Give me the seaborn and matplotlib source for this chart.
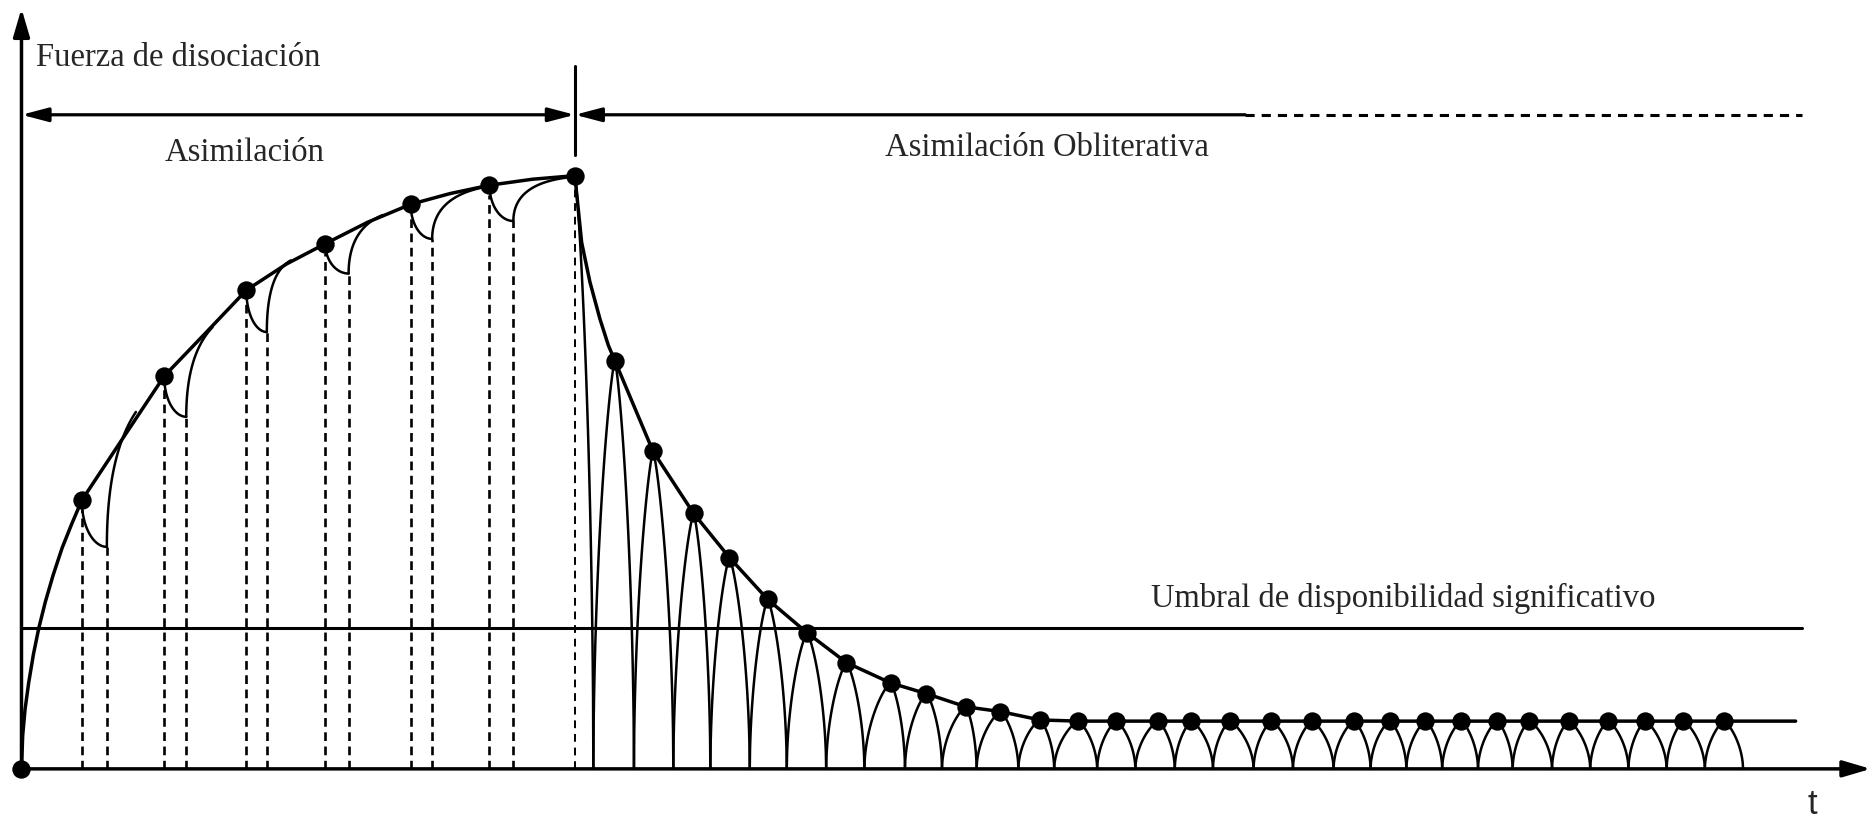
import numpy as np
import pandas as pd
import seaborn as sns
import matplotlib.pyplot as plt

# --- values (t = time, F = dissociation force) ---

# assimilation phase: dots on the rising envelope (origin ... peak)
rise_t = [0, 50.5, 119.5, 188.3, 254.5, 326, 392, 463.5]
rise_F = [0, 225, 329, 401, 440, 473, 489, 497]

# bottom of each scallop and the point where it joins the envelope again
cusp_t = [71.5, 138, 205.5, 274, 344, 412]
cusp_F = [186, 295, 366, 415, 444, 459]
merge_t = [95.8, 160, 225.6, 302.5, 385.8, 462.8]
merge_F = [299, 370, 426, 464, 487, 496]

# rising envelope
env_rise_t = [0, 1, 3, 6, 10, 14.5, 20, 26.4, 34, 42, 50.5, 84.6, 119.5,
              155, 188.3, 222, 254.5, 290, 326, 359, 392, 428, 463.5]
env_rise_F = [0, 28, 50, 72, 96, 118, 140, 162, 185, 205, 225, 276.5, 329,
              366, 401, 423, 440, 458, 473, 482, 489, 494, 497]

# obliterative phase: dots on top of each arch
decay_t = [497, 529, 563, 593, 625, 658, 691, 728, 758, 791, 820, 853,
           885, 917, 952, 980, 1012, 1047, 1081, 1116, 1146, 1176, 1206,
           1236, 1263, 1296, 1329, 1360, 1392, 1426]
decay_F = [342, 266, 214, 177, 142, 114, 89, 72, 63, 52, 48, 41] + [40] * 18

# where the arches touch the time axis
touch_t = [479, 513, 546, 577, 610, 641, 674, 706, 740, 771, 800, 835, 865,
           901, 933, 966, 998, 1032, 1065, 1099, 1130, 1160, 1190, 1220,
           1249, 1282, 1314, 1346, 1378, 1410, 1442]

# decaying envelope
env_decay_t = [463.5, 469.2, 476.1, 484.5, 491.5] + decay_t[:13] + [1486]
env_decay_F = [497, 441, 408, 377, 355] + decay_F[:13] + [40]

threshold_F = 118
threshold_end = 1491
phase_split = 463.5
arrow_F = 548
solid_end = 1025

sns.set_style('white')
plt.rcParams['font.family'] = ['Liberation Serif', 'DejaVu Serif']

fig = plt.figure(figsize=(18.72, 8.2), dpi=100)
ax = fig.add_axes([0, 0, 1, 1])
ax.set_xlim(-18, 1550)
ax.set_ylim(-42, 645)
ax.axis('off')

K = 'black'
LW_THIN = 1.8


def quarter(t0, f0, t1, f1, n=40):
    # quarter ellipse: vertical at the start, horizontal at the end
    th = np.linspace(0, np.pi / 2, n)
    return t1 - (t1 - t0) * np.cos(th), f0 + (f1 - f0) * np.sin(th)


def bezier(p0, p1, p2, n=40):
    s = np.linspace(0, 1, n)[:, None]
    pts = (1 - s) ** 2 * np.array(p0) + 2 * (1 - s) * s * np.array(p1) + s ** 2 * np.array(p2)
    return pts[:, 0], pts[:, 1]


def half_arch(tp, fp, tb, n=60):
    # one side of an arch from its top (tp, fp) down to the axis at tb
    u = np.linspace(0, 1, n)
    return tp + (tb - tp) * u, fp * (1 - u ** 1.3) ** 0.55


# axes with arrow heads
head = '-|>,head_length=1.7,head_width=0.5'
ax.annotate('', xy=(0, 637), xytext=(0, 0),
            arrowprops=dict(arrowstyle=head, lw=2.5, color=K, shrinkA=0, shrinkB=0))
ax.annotate('', xy=(1549, 0), xytext=(0, 0),
            arrowprops=dict(arrowstyle=head, lw=2.5, color=K, shrinkA=0, shrinkB=0))

# threshold line
ax.plot([0, threshold_end], [threshold_F, threshold_F], color=K, lw=2.2)

# dashed verticals under the assimilation dots and scallop cusps
dash_kw = dict(color=K, lw=1.9, dashes=(3.3, 2.1))
for t, f in zip(rise_t[1:-1], rise_F[1:-1]):
    ax.plot([t, t], [0, f - 8], **dash_kw)
for t, f in zip(cusp_t, cusp_F):
    ax.plot([t, t], [0, f], **dash_kw)
ax.plot([phase_split, phase_split], [0, rise_F[-1]], color=K, lw=1.4, dashes=(4, 3))

# scallops of the assimilation phase
env_t = np.array(env_rise_t)
env_F = np.array(env_rise_F)
for i in range(len(cusp_t)):
    x, y = quarter(rise_t[i + 1], rise_F[i + 1], cusp_t[i], cusp_F[i])
    ax.plot(x, y, color=K, lw=LW_THIN)
    # rise: vertical at the cusp, tangent to the envelope where it joins it
    j = np.searchsorted(env_t, merge_t[i]) - 1
    j = min(max(j, 0), len(env_t) - 2)
    slope = (env_F[j + 1] - env_F[j]) / (env_t[j + 1] - env_t[j])
    ctrl = (cusp_t[i], merge_F[i] - slope * (merge_t[i] - cusp_t[i]))
    x, y = bezier((cusp_t[i], cusp_F[i]), ctrl, (merge_t[i], merge_F[i]))
    ax.plot(x, y, color=K, lw=LW_THIN)

# envelope
sns.lineplot(x=env_rise_t, y=env_rise_F, sort=False, color=K, lw=2.5, ax=ax)
sns.lineplot(x=env_decay_t, y=env_decay_F, sort=False, color=K, lw=2.5, ax=ax)

# first drop after the peak, then the arches
x, y = half_arch(rise_t[-1], rise_F[-1], touch_t[0])
ax.plot(x, y, color=K, lw=LW_THIN)
for i in range(len(decay_t)):
    x, y = half_arch(decay_t[i], decay_F[i], touch_t[i])
    ax.plot(x, y, color=K, lw=LW_THIN)
    x, y = half_arch(decay_t[i], decay_F[i], touch_t[i + 1])
    ax.plot(x, y, color=K, lw=LW_THIN)

# dots
dots = pd.DataFrame({'t': rise_t + decay_t, 'F': rise_F + decay_F})
sns.scatterplot(data=dots, x='t', y='F', s=175, color=K, edgecolor=K,
                linewidth=0, zorder=5, ax=ax)

# phase arrows at the top
ax.annotate('', xy=(0, arrow_F), xytext=(phase_split, arrow_F),
            arrowprops=dict(arrowstyle='<|-|>,head_length=1.6,head_width=0.42',
                            lw=2.3, color=K, shrinkA=0, shrinkB=0))
ax.annotate('', xy=(phase_split, arrow_F), xytext=(solid_end, arrow_F),
            arrowprops=dict(arrowstyle='-|>,head_length=1.6,head_width=0.42',
                            lw=2.3, color=K, shrinkA=0, shrinkB=0))
ax.plot([solid_end, threshold_end], [arrow_F, arrow_F], color=K, lw=2.2, dashes=(3, 2.3))
ax.plot([phase_split, phase_split], [514, 589], color=K, lw=2.2)

# labels
fs = 23.5
ax.text(12, 597, 'Fuerza de disociación', fontsize=fs, ha='left', va='center')
ax.text(187, 517, 'Asimilación', fontsize=fs, ha='center', va='center')
ax.text(859, 521, 'Asimilación Obliterativa', fontsize=fs, ha='center', va='center')
ax.text(1157, 144, 'Umbral de disponibilidad significativo', fontsize=fs,
        ha='center', va='center')
ax.text(1500, -29, 't', fontsize=25, ha='center', va='center',
        family=['Liberation Sans', 'DejaVu Sans'])

fig.savefig('out.png', dpi=100)
